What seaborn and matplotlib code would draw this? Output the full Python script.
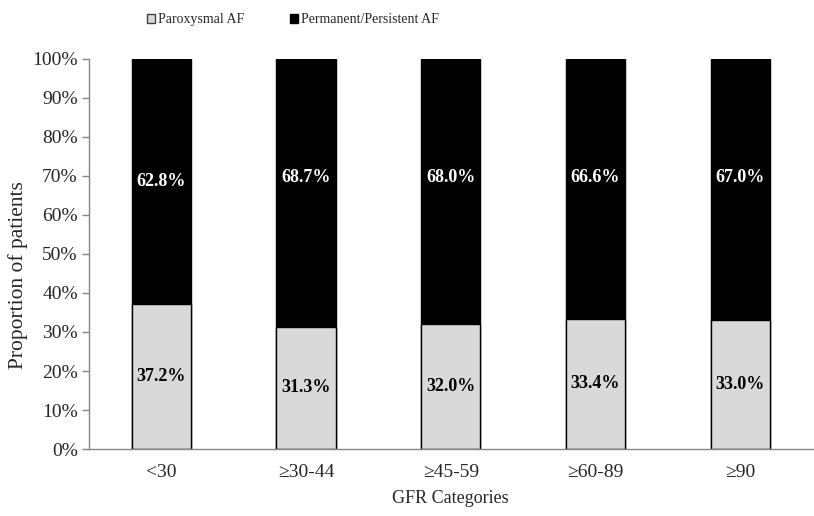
import matplotlib
matplotlib.use("Agg")
import matplotlib.pyplot as plt
import matplotlib.patches as mpatches
import seaborn as sns
import numpy as np
import pandas as pd

categories = ["<30", "≥30-44", "≥45-59", "≥60-89", "≥90"]
paroxysmal = [37.2, 31.3, 32.0, 33.4, 33.0]
persistent = [62.8, 68.7, 68.0, 66.6, 67.0]
# where the upper labels sit (percent of the axis)
persistent_label_y = [68.7, 69.5, 69.5, 69.5, 69.5]
yticks = np.arange(0, 101, 10)

sns.set_style("white")
plt.rcParams["font.family"] = ["Liberation Serif", "DejaVu Serif"]

df = pd.DataFrame({"category": categories, "paroxysmal": paroxysmal, "persistent": persistent})
df["total"] = df["paroxysmal"] + df["persistent"]

fig = plt.figure(figsize=(8.14, 5.16), dpi=100)
ax = fig.add_axes([0.1093, 0.1298, 0.889, 0.756])

grey = "#d9d9d9"
axis_col = "#868686"
sns.barplot(data=df, x="category", y="total", color="black", edgecolor="black",
            linewidth=1, width=0.41, saturation=1, ax=ax)
sns.barplot(data=df, x="category", y="paroxysmal", color=grey, edgecolor="black",
            linewidth=1, width=0.41, saturation=1, ax=ax)

for i, (p, q) in enumerate(zip(paroxysmal, persistent)):
    ax.text(i, p / 2, f"{p:.1f}%", ha="center", va="center", fontsize=13,
            fontweight="bold", color="black")
    ax.text(i, persistent_label_y[i], f"{q:.1f}%", ha="center", va="center", fontsize=13,
            fontweight="bold", color="white")

ax.set_xlim(-0.5, len(categories) - 0.5)
ax.set_ylim(0, 100)
ax.set_yticks(yticks)
ax.set_yticklabels([f"{v}%" for v in yticks], fontsize=14)
ax.set_xticks(range(len(categories)))
ax.set_xticklabels(categories, fontsize=14)
ax.set_xticks(np.arange(-0.5, len(categories)), minor=True)
ax.tick_params(axis="x", which="major", length=0, pad=11)
ax.tick_params(axis="x", which="minor", length=5, color=axis_col, direction="out", width=1)
ax.tick_params(axis="y", length=5, color=axis_col, direction="out", width=1, left=True, pad=3)

for side in ["top", "right"]:
    ax.spines[side].set_visible(False)
for side in ["left", "bottom"]:
    ax.spines[side].set_color(axis_col)
    ax.spines[side].set_linewidth(1)

ax.set_xlabel("GFR Categories", fontsize=13, labelpad=6)
ax.set_ylabel("Proportion of patients", fontsize=15.5)
ax.yaxis.set_label_coords(-0.084, 0.445)

handles = [
    mpatches.Patch(facecolor=grey, edgecolor="#404040", label="Paroxysmal AF"),
    mpatches.Patch(facecolor="black", edgecolor="black", label="Permanent/Persistent AF"),
]
fig.legend(handles=handles, loc="center", bbox_to_anchor=(0.36, 0.962), ncol=2,
           frameon=False, fontsize=10, handlelength=0.6, handleheight=0.6,
           handletextpad=0.2, columnspacing=3.3)

fig.savefig("out.png", dpi=100)
